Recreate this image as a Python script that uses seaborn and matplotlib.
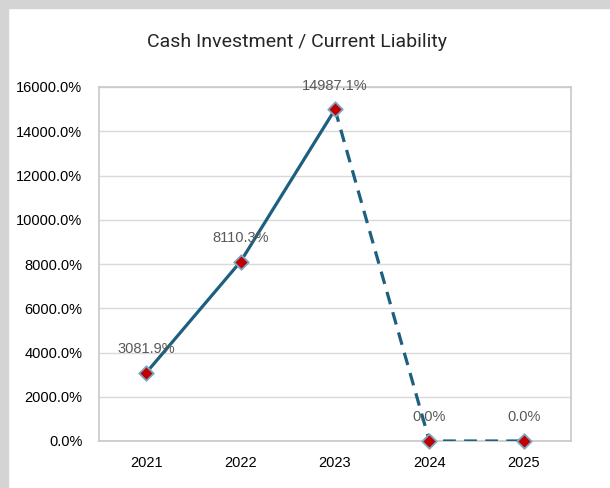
import numpy as np
import pandas as pd
import matplotlib
matplotlib.use("Agg")
import matplotlib.pyplot as plt
from matplotlib.patches import Rectangle
import seaborn as sns

years = ["2021", "2022", "2023", "2024", "2025"]
ratio = [3081.9, 8110.3, 14987.1, 0.0, 0.0]
solid_idx = [0, 1, 2]
dashed_idx = [2, 3, 4]

sns.set_theme(style="white")
plt.rcParams["font.family"] = ["Liberation Sans", "DejaVu Sans"]

df = pd.DataFrame({"pos": np.arange(len(years)), "year": years, "ratio": ratio})

fig = plt.figure(figsize=(6.1, 4.88), dpi=100)
# grey window edge on top and left
fig.patches.append(Rectangle((0, 1 - 8 / 488), 1, 8 / 488, transform=fig.transFigure,
                             color="#d4d4d4", zorder=0))
fig.patches.append(Rectangle((0, 0), 8 / 610, 1, transform=fig.transFigure,
                             color="#d4d4d4", zorder=0))

ax = fig.add_axes([99 / 610, 1 - 441 / 488, 472 / 610, 354 / 488])

line_col = "#1c5f80"
sns.lineplot(data=df.iloc[solid_idx], x="pos", y="ratio", ax=ax, color=line_col,
             linewidth=2.3, zorder=3)
sns.lineplot(data=df.iloc[dashed_idx], x="pos", y="ratio", ax=ax, color=line_col,
             linewidth=2.3, zorder=3)
ax.lines[-1].set_dashes([4, 2.6])
sns.scatterplot(data=df, x="pos", y="ratio", ax=ax, marker="D", s=55,
                color="#c00000", edgecolor="#7fa7c2", linewidth=1.3, zorder=5,
                clip_on=False)

for xi, yi in zip(df["pos"], df["ratio"]):
    ax.annotate(f"{yi:.1f}%", (xi, yi), xytext=(0, 17), textcoords="offset points",
                ha="center", va="center", fontsize=10.5, color="#595959", zorder=6)

ax.set_xlim(-0.5, len(years) - 0.5)
ax.set_ylim(0, 16000)
ax.set_xticks(df["pos"])
ax.set_xticklabels(years)
ax.set_yticks(np.arange(0, 16001, 2000))
ax.set_yticklabels([f"{v:.1f}%" for v in np.arange(0, 16001, 2000)])
ax.tick_params(axis="both", length=0, labelsize=10.5, colors="#000000")
ax.tick_params(axis="y", pad=12)
ax.tick_params(axis="x", pad=10.5)
ax.grid(axis="y", color="#d9d9d9", linewidth=1)
ax.set_axisbelow(True)
for s in ax.spines.values():
    s.set_color("#c8c8c8")
    s.set_linewidth(1.2)
ax.set_xlabel("")
ax.set_ylabel("")

fig.text(0.487, 1 - 42 / 488, "Cash Investment / Current Liability", ha="center",
         va="center", fontsize=14, family=["Roboto", "DejaVu Sans"])

fig.savefig("out.png", dpi=100)
